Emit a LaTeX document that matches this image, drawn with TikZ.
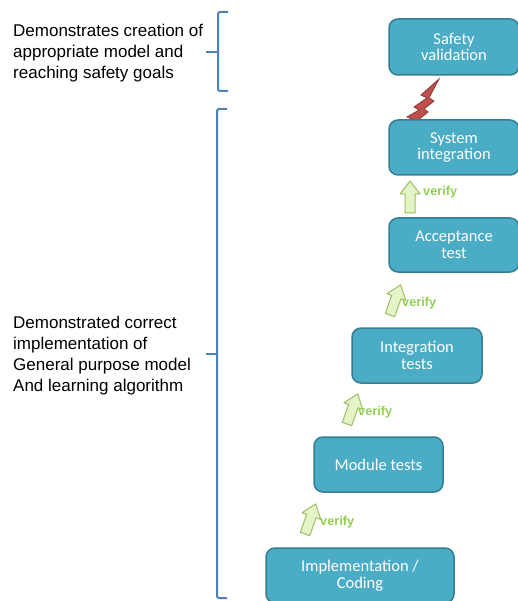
\documentclass[tikz,border=0pt]{standalone}
\usepackage{fontspec}
\setmainfont{Liberation Sans}
\newfontfamily\boxfont{Carlito}
\definecolor{boxfill}{HTML}{4BACC6}
\definecolor{boxline}{HTML}{357D91}
\definecolor{brk}{HTML}{4F81BD}
\definecolor{vgreen}{HTML}{92D050}
\definecolor{arrfill}{HTML}{E3F4C6}
\definecolor{arrline}{HTML}{9DBF62}
\definecolor{boltfill}{HTML}{C0504D}
\definecolor{boltline}{HTML}{8C3836}
\tikzset{
  stage/.style={draw=boxline, line width=1.5pt, fill=boxfill, rounded corners=9pt,
    text=white, font=\boxfont\fontsize{16.5}{16.5}\selectfont, align=center, inner sep=0pt},
  vlabel/.style={font=\bfseries\fontsize{12.7}{15}\selectfont, text=vgreen, anchor=west, inner sep=0pt},
  side/.style={font=\fontsize{17}{21}\selectfont, align=left, anchor=west, inner sep=0pt},
  brace/.style={draw=brk, line width=2pt, rounded corners=2pt},
  vfyarrow/.pic={\draw[draw=arrline, fill=arrfill, line width=1pt, line join=round]
    (0,-5) -- (19,-5) -- (19,-10) -- (32,0) -- (19,10) -- (19,5) -- (0,5) -- cycle;}
}
\begin{document}
\begin{tikzpicture}[x=1pt, y=-1pt]
\useasboundingbox (0,0) rectangle (517,601);

% lightning bolt
\draw[fill=boltfill, draw=boltline, line width=0.8pt, line join=miter]
  (439,79) -- (421,95) -- (427,98) -- (414,107) -- (419,110) -- (407,117) -- (417,121)
  -- (428,112) -- (424,109) -- (434,101) -- (429,98) -- cycle;

% stages
\node[stage, minimum width=130pt, minimum height=56pt] (sv) at (454,47) {Safety\\validation};
\node[stage, minimum width=130pt, minimum height=55pt] (si) at (454,147.5) {System\\integration};
\node[stage, minimum width=130pt, minimum height=54pt] (at) at (454,245) {Acceptance\\test};
\node[stage, minimum width=130pt, minimum height=55pt] (it) at (417,355.5) {Integration\\tests};
\node[stage, minimum width=129pt, minimum height=55pt] (mt) at (378.5,464.5) {Module tests};
\node[stage, minimum width=188pt, minimum height=55pt] (ic) at (360,575.5) {Implementation /\\Coding};

% verify arrows
\pic[rotate=90] at (410,213) {vfyarrow};
\pic[rotate=70.5] at (390,315) {vfyarrow};
\pic[rotate=70.5] at (347,424) {vfyarrow};
\pic[rotate=70.5] at (305,534) {vfyarrow};
\node[vlabel] (v1) at (423,192) {verify};
\node[vlabel] (v2) at (402,303) {verify};
\node[vlabel] (v3) at (358,412) {verify};
\node[vlabel] (v4) at (320,522) {verify};

% braces
\draw[brace] (228,12) -- (218,12) -- (218,91) -- (228,91);
\draw[brace] (206,52) -- (218,52);
\draw[brace] (227,109) -- (217,109) -- (217,598) -- (227,598);
\draw[brace] (206,354) -- (217,354);

% side texts
\node[side] (t1) at (13,53) {Demonstrates creation of\\appropriate model and\\reaching safety goals};
\node[side] (t2) at (13,356) {Demonstrated correct\\implementation of\\General purpose model\\And learning algorithm};
\end{tikzpicture}
\end{document}
